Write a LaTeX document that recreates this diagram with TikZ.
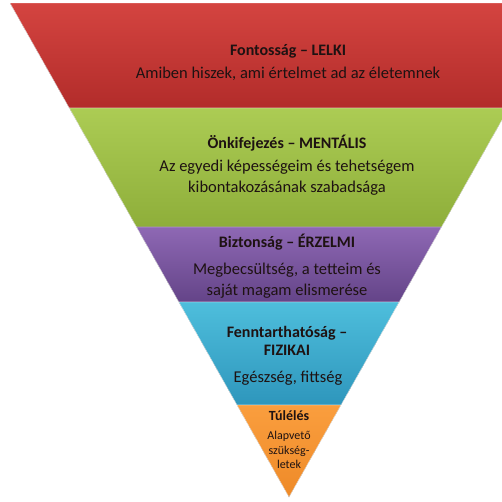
\documentclass[tikz,border=0pt]{standalone}
\usepackage{fontspec}
\setmainfont{Carlito}
\usepackage{xcolor}
\usetikzlibrary{calc}
\definecolor{redtop}{RGB}{212,68,64}
\definecolor{redbot}{RGB}{178,44,42}
\definecolor{greentop}{RGB}{172,204,84}
\definecolor{greenbot}{RGB}{142,174,58}
\definecolor{purptop}{RGB}{142,104,180}
\definecolor{purpbot}{RGB}{100,68,136}
\definecolor{bluetop}{RGB}{78,190,220}
\definecolor{bluebot}{RGB}{46,150,188}
\definecolor{orangetop}{RGB}{250,158,62}
\definecolor{orangebot}{RGB}{238,138,40}
\definecolor{ink}{RGB}{30,18,18}
\tikzset{
  head/.style  = {text=ink, font=\fontsize{16}{18.5}\selectfont\bfseries, align=center},
  body/.style  = {text=ink, font=\fontsize{16.5}{21}\selectfont, align=center},
  small/.style = {text=ink, font=\fontsize{12}{14.5}\selectfont, align=center},
  band/.style  = {draw=white, line width=0.3pt},
}
\begin{document}
\begin{tikzpicture}[x=1pt, y=-1pt]
\useasboundingbox (0,0) rectangle (502,501);
\clip (0,0) rectangle (502,501);
% corners of the inverted triangle
\coordinate (tl) at (10,3);
\coordinate (tr) at (568,3);
\coordinate (apex) at (289,497);
% band borders along both sides
\foreach \n/\t in {a/0.2126, b/0.4534, c/0.6053, d/0.8138} {
  \coordinate (l\n) at ($(tl)!\t!(apex)$);
  \coordinate (r\n) at ($(tr)!\t!(apex)$);
}
\fill[band, top color=redtop, bottom color=redbot] (tl) -- (tr) -- (ra) -- (la) -- cycle;
\fill[band, top color=greentop, bottom color=greenbot] (la) -- (ra) -- (rb) -- (lb) -- cycle;
\fill[band, top color=purptop, bottom color=purpbot] (lb) -- (rb) -- (rc) -- (lc) -- cycle;
\fill[band, top color=bluetop, bottom color=bluebot] (lc) -- (rc) -- (rd) -- (ld) -- cycle;
\fill[band, top color=orangetop, bottom color=orangebot] (ld) -- (rd) -- (apex) -- cycle;

% texts of the levels
\node[head] (lelki) at (288,51) {Fontosság – LELKI};
\node[body] (lelkitxt) at (288,74) {Amiben hiszek, ami értelmet ad az életemnek};
\node[head] (mentalis) at (287,143) {Önkifejezés – MENTÁLIS};
\node[body] (mentalistxt) at (287,178) {Az egyedi képességeim és tehetségem\\kibontakozásának szabadsága};
\node[head] (erzelmi) at (287,242) {Biztonság – ÉRZELMI};
\node[body] (erzelmitxt) at (287,281) {Megbecsültség, a tetteim és\\saját magam elismerése};
\node[head] (fizikai) at (287,341) {Fenntarthatóság –\\FIZIKAI};
\node[body] (fizikaitxt) at (288,378) {Egészség, fittség};
\node[head, font=\fontsize{14}{16}\selectfont\bfseries] (tulel) at (289,416) {Túlélés};
\node[small] (tuleltxt) at (289,450) {Alapvető\\szükség-\\letek};
\end{tikzpicture}
\end{document}
